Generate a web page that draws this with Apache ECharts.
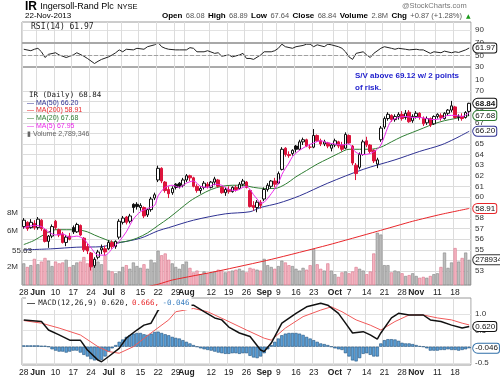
<!DOCTYPE html>
<html>
<head>
<meta charset="utf-8">
<script src="https://cdn.jsdelivr.net/npm/echarts@6/dist/echarts.min.js"></script>
<style>
  html, body { margin: 0; padding: 0; background: #fff; }
  #chart { width: 500px; height: 378px; }
</style>
</head>
<body>
<div id="chart"></div>
<script>
// trading days, 28-May-2013 .. 22-Nov-2013
const dates = [
  '05-28','05-29','05-30','05-31',
  '06-03','06-04','06-05','06-06','06-07','06-10','06-11','06-12','06-13','06-14',
  '06-17','06-18','06-19','06-20','06-21','06-24','06-25','06-26','06-27','06-28',
  '07-01','07-02','07-03','07-05','07-08','07-09','07-10','07-11','07-12','07-15',
  '07-16','07-17','07-18','07-19','07-22','07-23','07-24','07-25','07-26','07-29',
  '07-30','07-31',
  '08-01','08-02','08-05','08-06','08-07','08-08','08-09','08-12','08-13','08-14',
  '08-15','08-16','08-19','08-20','08-21','08-22','08-23','08-26','08-27','08-28',
  '08-29','08-30',
  '09-03','09-04','09-05','09-06','09-09','09-10','09-11','09-12','09-13','09-16',
  '09-17','09-18','09-19','09-20','09-23','09-24','09-25','09-26','09-27','09-30',
  '10-01','10-02','10-03','10-04','10-07','10-08','10-09','10-10','10-11','10-14',
  '10-15','10-16','10-17','10-18','10-21','10-22','10-23','10-24','10-25','10-28',
  '10-29','10-30','10-31',
  '11-01','11-04','11-05','11-06','11-07','11-08','11-11','11-12','11-13','11-14',
  '11-15','11-18','11-19','11-20','11-21','11-22'
];

const tickDates = ['05-28','06-03','06-10','06-17','06-24','07-01','07-08','07-15','07-22','07-29',
  '08-01','08-12','08-19','08-26','09-03','09-09','09-16','09-23','10-01','10-07','10-14','10-21',
  '10-28','11-01','11-11','11-18'];
const tickTexts = ['28','Jun','10','17','24','Jul','8','15','22','29','Aug','12','19','26','Sep',
  '9','16','23','Oct','7','14','21','28','Nov','11','18'];
const monthNames = ['Jun','Jul','Aug','Sep','Oct','Nov'];

const opens = [57.2,57.6,57.1,57.5,57.1,57.8,56.9,55.8,56.3,57.7,56.9,56.5,55.7,56.3,57.1,56.7,57.3,56.1,55.3,54.7,
  53.5,54.3,55.0,55.1,55.1,55.7,55.3,56.2,57.6,58.1,57.7,59.3,59.3,59.0,59.0,58.3,58.8,59.9,61.6,62.7,
  61.4,60.7,60.4,61.2,61.3,61.1,61.6,62.0,61.8,61.0,60.6,60.9,61.2,60.9,61.4,61.6,60.9,60.4,60.7,60.5,
  60.9,60.8,61.2,61.4,60.6,59.2,59.0,59.5,59.8,60.7,61.0,61.5,61.3,62.6,64.6,64.0,64.1,64.8,64.5,65.2,
  65.4,64.7,64.7,65.8,65.3,65.0,65.1,64.6,64.9,65.2,64.9,64.6,65.8,64.8,63.0,62.8,64.0,65.3,64.9,64.4,
  63.1,65.4,66.6,67.4,67.7,67.3,67.6,67.8,67.5,68.0,67.2,67.6,67.9,67.4,67.0,67.4,66.9,67.6,67.7,67.4,
  67.9,68.2,68.5,67.5,67.6,67.5,68.08];
const highs = [58.0,57.7,57.9,57.8,58.1,57.9,57.0,56.4,57.4,57.83,57.0,56.7,56.4,56.6,57.3,57.56,57.4,56.2,55.6,54.8,
  54.3,55.0,55.5,55.4,55.9,55.9,55.9,57.9,58.2,58.2,58.4,59.4,59.5,59.4,59.1,58.9,60.0,60.4,62.95,62.8,
  61.5,61.0,61.0,61.3,61.4,61.8,62.16,62.1,61.9,61.2,61.0,61.5,61.4,61.5,61.9,61.7,61.0,60.9,61.0,61.0,
  61.1,61.4,61.7,61.5,60.7,59.6,59.7,59.7,60.9,61.3,61.6,61.8,62.4,64.7,64.7,64.3,64.5,64.9,65.4,65.6,
  65.5,65.0,66.41,65.9,65.5,65.4,65.2,65.0,65.5,65.3,65.2,66.1,65.9,64.9,63.2,64.2,65.4,65.68,65.0,64.5,
  63.7,66.7,67.6,68.0,67.8,67.8,68.0,68.1,68.2,68.2,67.8,68.1,68.0,67.6,67.6,67.5,67.7,67.9,67.9,68.0,
  68.3,69.07,68.6,67.8,67.9,68.1,68.89];
const lows = [57.0,56.8,57.0,56.9,56.9,56.8,55.7,55.19,56.1,56.9,56.2,55.6,55.35,55.9,56.5,56.6,56.3,54.8,54.6,53.05,
  53.3,54.1,54.6,54.5,55.0,55.1,55.1,56.0,57.4,57.4,57.5,58.5,58.8,58.7,58.0,58.1,58.6,59.7,61.4,61.3,
  60.4,59.89,60.2,60.7,60.8,60.9,61.4,61.5,60.9,60.4,60.3,60.7,60.8,60.8,61.1,60.9,60.3,60.1,60.3,60.4,
  60.5,60.7,61.0,60.8,59.0,58.7,58.55,58.9,59.6,60.5,60.8,60.9,61.2,62.5,63.8,63.7,63.9,64.2,64.4,64.9,
  64.7,64.5,64.6,65.2,64.8,64.8,64.6,64.3,64.7,64.6,64.3,64.5,65.0,63.0,61.59,62.6,63.9,64.7,64.1,63.2,
  62.72,65.2,66.4,67.2,67.1,67.1,67.3,67.2,67.3,67.0,67.0,67.4,67.3,66.7,66.8,66.6,66.8,67.4,67.2,67.3,
  67.7,68.0,67.4,67.2,67.2,67.4,67.64];
const closes = [57.8,57.0,57.6,57.1,57.9,57.0,55.8,56.3,57.2,57.1,56.4,55.7,56.2,56.0,56.7,57.4,56.4,55.0,54.9,53.4,
  54.1,54.8,55.2,54.8,55.7,55.3,55.8,57.7,58.0,57.6,58.2,59.0,59.1,59.2,58.2,58.8,59.8,60.2,62.7,61.5,
  60.6,60.3,60.8,60.9,61.0,61.6,62.0,61.8,61.0,60.6,60.8,61.3,61.0,61.4,61.7,61.0,60.4,60.7,60.5,60.9,
  60.7,61.2,61.5,60.9,59.1,59.0,59.5,59.2,60.7,61.1,61.5,61.2,62.2,64.5,64.0,63.9,64.4,64.5,65.2,65.4,
  64.8,64.7,65.8,65.3,65.0,65.2,64.8,64.9,65.3,64.8,64.5,65.9,65.1,63.2,62.2,64.0,65.2,64.9,64.3,63.4,
  63.5,66.5,67.4,67.8,67.3,67.6,67.8,67.4,67.9,67.1,67.6,67.9,67.5,66.9,67.4,66.8,67.6,67.8,67.5,67.9,
  68.2,68.6,67.5,67.6,67.4,67.97,68.84];
// volume, millions of shares
const volumes = [2.4,2.0,2.2,2.9,2.3,2.6,3.0,2.7,2.1,2.6,2.4,2.5,2.8,2.0,2.2,2.5,2.6,3.1,2.4,3.3,
  2.9,2.6,2.3,3.3,1.6,1.5,1.3,1.5,2.0,2.2,1.8,2.5,2.1,1.9,2.3,1.8,2.8,2.5,3.8,3.3,
  3.5,2.8,2.4,2.0,1.8,2.3,2.6,1.9,1.4,1.6,1.2,1.5,1.3,1.4,1.5,1.7,1.6,1.4,1.5,1.6,
  1.7,1.8,1.6,1.4,1.9,1.8,1.7,1.6,2.9,2.2,2.0,1.8,2.1,2.7,2.5,2.2,2.1,1.8,1.6,1.9,
  1.7,2.2,4.0,2.3,1.8,1.6,2.4,1.6,1.2,0.9,1.4,1.5,1.3,1.5,2.0,1.8,1.6,1.2,1.5,3.5,
  5.8,5.6,2.2,2.2,1.4,1.6,1.5,1.3,1.0,1.1,1.3,1.0,0.8,0.9,0.8,1.0,1.2,1.3,2.0,3.6,
  1.9,2.5,4.1,2.6,3.0,3.6,2.79];

// [day index, value]
const ma5 = [[0,57.1],[3,57.3],[5,57.2],[7,56.7],[9,56.4],[11,56.5],[13,56.2],[15,56.3],[17,56.0],[19,55.2],
  [21,54.5],[23,54.5],[25,55.1],[27,55.8],[29,56.7],[31,57.9],[33,58.6],[35,58.9],[37,59.2],[38,60.1],
  [40,60.9],[42,61.1],[44,60.9],[46,61.3],[48,61.5],[50,61.0],[52,60.9],[54,61.2],[56,61.1],[58,60.7],
  [60,60.6],[62,60.9],[63,61.0],[64,60.7],[65,60.2],[66,59.8],[67,59.4],[68,59.5],[70,60.3],[72,61.3],
  [73,62.1],[74,62.7],[75,63.2],[76,63.8],[78,64.4],[80,64.8],[82,65.1],[84,65.3],[86,65.1],[88,65.0],
  [90,64.9],[92,65.0],[93,64.6],[94,64.2],[96,64.0],[98,64.1],[100,64.5],[101,64.9],[102,65.7],[103,66.6],
  [104,67.2],[106,67.5],[108,67.6],[110,67.5],[112,67.5],[114,67.4],[116,67.3],[118,67.4],[120,67.7],
  [122,67.7],[124,67.6],[126,67.95]];
const ma20 = [[0,55.5],[3,55.9],[6,56.5],[9,56.9],[12,56.9],[15,56.9],[18,56.7],[20,56.4],[23,56.0],[26,55.7],
  [29,55.8],[32,56.1],[35,56.6],[38,57.3],[41,58.0],[44,58.8],[47,59.6],[50,60.2],[53,60.7],[56,61.0],
  [59,61.1],[62,61.1],[65,60.9],[68,60.8],[71,60.8],[74,61.2],[77,61.9],[80,62.5],[83,63.1],[86,63.6],
  [89,64.1],[92,64.5],[95,64.5],[98,64.5],[101,64.7],[104,65.2],[107,65.7],[110,66.1],[113,66.5],
  [116,66.9],[119,67.2],[122,67.4],[126,67.68]];
const ma50 = [[0,55.0],[8,55.1],[15,55.25],[22,55.3],[26,55.6],[33,56.1],[38,56.8],[41,57.1],[48,57.8],
  [57,58.4],[64,58.6],[67,59.0],[72,59.4],[78,60.1],[86,61.3],[96,62.6],[105,63.5],[112,64.3],
  [118,64.9],[122,65.5],[126,66.2]];
const ma200 = [[30,51.2],[38,51.75],[42,52.15],[55,53.0],[70,54.1],[86,55.45],[100,56.75],[110,57.7],
  [118,58.35],[126,58.91]];
const rsi = [[0,60],[2,57.7],[3,60],[4,61.5],[5,56],[6,47],[7,52],[9,54.5],[10,51],[12,47],[13,49],[14,51],
  [15,54.5],[17,49],[18,45.5],[20,37.5],[21,41],[22,44],[24,48],[25,51],[26,54.5],[27,59],[28,56],[29,60],
  [31,59],[32,61.5],[34,60],[35,64],[37,67],[38,70.5],[39,64],[40,61.5],[41,60],[43,59],[44,59],[46,59],
  [47,62.5],[48,61.5],[49,56],[51,56],[52,57.7],[54,53.5],[55,54.5],[56,49],[58,51],[59,48],[61,51],
  [62,53.5],[63,45.5],[64,45.5],[65,44],[67,51],[68,56],[70,56],[71,57.7],[72,61.5],[73,68],[74,64],
  [76,61.5],[77,64],[79,66],[80,68],[81,68],[82,64],[83,67],[85,64],[86,68],[87,67],[89,64],[90,61.5],
  [91,56],[92,48],[93,44],[94,53.5],[96,56],[97,51],[98,47],[99,53.5],[101,61.5],[102,64],[104,61.5],
  [105,60],[106,61.5],[108,60],[109,59],[111,60],[112,59],[113,59],[115,53.5],[116,56],[118,54.5],
  [119,57],[121,54.5],[122,56],[123,55],[125,59],[126,61.97]];
const macd = [[0,0.82],[5,0.77],[7,0.51],[10,0.36],[13,0.2],[16,0.2],[18,-0.1],[21,-0.41],[22,-0.46],
  [24,-0.3],[27,-0.05],[29,0.26],[32,0.51],[34,0.66],[36,0.72],[38,1.11],[39,1.22],[41,1.33],[43,1.38],
  [45,1.32],[46,1.27],[48,1.27],[51,1.07],[54,0.88],[56,0.82],[58,0.6],[61,0.42],[64,0.31],[67,-0.1],
  [68,-0.15],[70,0.11],[73,0.72],[77,1.02],[80,1.22],[84,1.33],[86,1.27],[89,1.02],[91,0.72],[93,0.42],
  [96,0.46],[98,0.36],[100,0.23],[101,0.42],[104,0.88],[106,1.02],[109,0.97],[113,0.97],[115,0.82],
  [118,0.77],[121,0.66],[124,0.57],[126,0.62]];
const signal = [[0,0.8],[5,0.72],[10,0.57],[16,0.36],[21,0.0],[24,-0.15],[27,-0.2],[31,0.0],[36,0.42],
  [41,0.82],[43,1.07],[48,1.17],[52,1.07],[57,0.82],[63,0.51],[68,0.26],[70,0.2],[74,0.57],[79,0.92],
  [84,1.12],[87,1.22],[90,1.07],[94,0.82],[98,0.66],[101,0.51],[105,0.77],[109,0.97],[113,0.97],
  [117,0.88],[121,0.82],[124,0.72],[126,0.666]];
const hist = [0.04,0.04,0.04,0.04,0.04,0.03,0.03,0.0,-0.08,-0.12,-0.15,-0.15,-0.18,-0.15,-0.12,-0.12,-0.18,-0.25,-0.3,-0.38,
  -0.42,-0.41,-0.4,-0.3,-0.15,-0.05,0.05,0.15,0.22,0.3,0.35,0.4,0.42,0.42,0.38,0.36,0.4,0.45,0.46,0.42,
  0.38,0.35,0.3,0.27,0.25,0.2,0.15,0.1,0.05,0.0,-0.05,-0.08,-0.1,-0.12,-0.15,-0.18,-0.2,-0.22,-0.22,-0.2,
  -0.2,-0.22,-0.2,-0.2,-0.28,-0.33,-0.35,-0.3,-0.2,-0.08,0.05,0.15,0.25,0.35,0.4,0.42,0.42,0.42,0.4,0.36,
  0.3,0.25,0.2,0.15,0.1,0.08,0.05,0.0,-0.05,-0.08,-0.1,-0.2,-0.3,-0.42,-0.45,-0.35,-0.22,-0.2,-0.25,-0.3,
  -0.3,0.1,0.2,0.23,0.23,0.22,0.18,0.12,0.1,0.1,0.08,0.05,0.02,0.0,-0.05,-0.12,-0.12,-0.12,-0.1,-0.1,
  -0.08,-0.1,-0.1,-0.12,-0.1,-0.08,-0.046];

const rsiTicks = [50, 70, 90];
const priceTicks = [53,54,55,56,57,58,59,60,61,62,63,64,65,66,67,68,69,70];
const volTicks = [2, 6, 8];
const macdTicks = [-0.5, 0, 0.5, 1.0];

const last = dates.length - 1;
const tickOf = {};
tickDates.forEach((d, i) => { tickOf[d] = tickTexts[i]; });
const isTick = (i, v) => tickOf[v] !== undefined;
const fmtDate = v => {
  const t = tickOf[v];
  if (t === undefined) return '';
  return monthNames.includes(t) ? '{m|' + t + '}' : t;
};

const candleData = closes.map((c, i) => {
  const o = opens[i];
  const prev = i > 0 ? closes[i - 1] : o;
  const col = c >= prev ? '#111' : '#dc143c';
  const fill = c > o ? '#fff' : col;
  return { value: [o, c, lows[i], highs[i]],
    itemStyle: { color: fill, color0: fill, borderColor: col, borderColor0: col } };
});
const volData = volumes.map((v, i) => {
  const up = i === 0 || closes[i] >= closes[i - 1];
  return { value: v, itemStyle: up ? { color: '#bdbdbd', borderColor: '#858585' }
                                   : { color: '#f5b5c2', borderColor: '#d8738a' } };
});

function tag(idx, val, text, border, bold) {
  return {
    symbol: 'circle', symbolSize: 0, silent: true, animation: false,
    data: [{ coord: [idx, val] }],
    label: {
      show: true, position: 'right', distance: 4, formatter: text,
      backgroundColor: '#fff', borderColor: border, borderWidth: 1, borderRadius: [5, 2, 2, 5],
      padding: [1, 1, 0, 2], fontSize: 8, color: '#111', fontWeight: bold ? 'bold' : 'normal',
      fontFamily: 'Liberation Sans'
    }
  };
}

function catAxis(gi, labels) {
  return {
    type: 'category', gridIndex: gi, data: dates, boundaryGap: true,
    axisLine: { show: false }, axisTick: { show: false },
    axisLabel: { show: labels, interval: isTick, formatter: fmtDate, fontSize: 8.5, color: '#222',
      margin: 3, rich: { m: { fontWeight: 'bold', fontSize: 8.5, color: '#222' } } },
    splitLine: { show: true, interval: isTick, lineStyle: { color: '#dcdcdc', width: 1 } }
  };
}

function lineSeries(name, xi, yi, pts, color, width, smooth, extra) {
  return Object.assign({
    name, type: 'line', xAxisIndex: xi, yAxisIndex: yi, data: pts, symbol: 'none',
    smooth: smooth, lineStyle: { color, width }, itemStyle: { color }, z: 3, silent: true
  }, extra || {});
}

const txt = (x, y, text, font, fill, extra) => Object.assign({
  type: 'text', x, y, z: 100, silent: true,
  style: { text, font, fill, textVerticalAlign: 'middle', verticalAlign: 'middle' }
}, extra || {});

const chart = echarts.init(document.getElementById('chart'));
chart.setOption({
  animation: false,
  textStyle: { fontFamily: 'Liberation Sans, Arial, sans-serif' },
  grid: [
    { left: 22, top: 22, width: 449, height: 45, show: true, borderColor: '#9a9a9a', borderWidth: 1 },
    { left: 22, top: 67, width: 449, height: 218, show: true, borderColor: '#8a8a8a', borderWidth: 1 },
    { left: 22, top: 298, width: 449, height: 67, show: true, borderColor: '#9a9a9a', borderWidth: 1 }
  ],
  xAxis: [catAxis(0, false), catAxis(1, true), catAxis(2, true)],
  yAxis: [
    { type: 'value', gridIndex: 0, position: 'right', min: 32, max: 103,
      axisLabel: { customValues: rsiTicks, fontSize: 8, color: '#333', margin: 4 },
      axisTick: { show: false, customValues: rsiTicks }, axisLine: { show: false },
      splitLine: { show: true, lineStyle: { color: '#e2e2e2' } } },
    { type: 'value', gridIndex: 1, position: 'right', min: 51.68, max: 72.27,
      axisLabel: { customValues: priceTicks, fontSize: 8, color: '#333', margin: 4 },
      axisTick: { show: false, customValues: priceTicks }, axisLine: { show: false },
      splitLine: { show: true, lineStyle: { color: '#dcdcdc' } } },
    { type: 'value', gridIndex: 1, position: 'left', min: 0, max: 24.2, interval: 2,
      axisLabel: { formatter: v => volTicks.includes(v) ? v + 'M' : '', fontSize: 8, color: '#333', margin: 4 },
      axisTick: { show: false }, axisLine: { show: false }, splitLine: { show: false } },
    { type: 'value', gridIndex: 2, position: 'right', min: -0.56, max: 1.49,
      axisLabel: { customValues: macdTicks, fontSize: 8, color: '#333', margin: 4,
        formatter: v => v === 0 ? '' : (v === 1 ? '1.0' : String(v)) },
      axisTick: { show: false, customValues: macdTicks }, axisLine: { show: false },
      splitLine: { show: true, lineStyle: { color: '#e2e2e2' } } }
  ],
  series: [
    lineSeries('RSI', 0, 0, rsi, '#222', 1, false, {
      markLine: { silent: true, symbol: ['none', 'none'], label: { show: false },
        data: [
          { yAxis: 70, lineStyle: { color: '#a8a8a8', width: 2, type: 'solid' } },
          { yAxis: 50, lineStyle: { color: '#a0a0a0', width: 1, type: 'dashed' } }
        ] },
      markPoint: tag(last, 61.97, '61.97', '#111', false)
    }),
    { name: 'Volume', type: 'bar', xAxisIndex: 1, yAxisIndex: 2, data: volData, barWidth: '88%',
      itemStyle: { borderWidth: 0.6 }, z: 1, silent: true,
      markPoint: tag(last, 2.789346, '2789346', '#333', false) },
    lineSeries('MA200', 1, 1, ma200, '#e8262a', 1, 0.2, { markPoint: tag(last, 58.91, '58.91', '#e8262a', false) }),
    lineSeries('MA50', 1, 1, ma50, '#2e3192', 1, 0.3, { markPoint: tag(last, 66.2, '66.20', '#2e3192', false) }),
    lineSeries('MA20', 1, 1, ma20, '#2e7d32', 1, 0.3, { markPoint: tag(last, 67.68, '67.68', '#2e7d32', false) }),
    { name: 'IR', type: 'candlestick', xAxisIndex: 1, yAxisIndex: 1, data: candleData, barWidth: 3,
      itemStyle: { borderWidth: 1 }, z: 4, silent: true,
      markPoint: tag(last, 68.84, '68.84', '#111', true) },
    lineSeries('MA5', 1, 1, ma5, '#ea28ea', 1, 0.3, { z: 5 }),
    { name: 'Hist', type: 'bar', xAxisIndex: 2, yAxisIndex: 3, data: hist, barWidth: '92%',
      itemStyle: { color: '#5b9fd6', borderColor: '#21527d', borderWidth: 0.6 }, z: 1, silent: true,
      markPoint: tag(last, -0.046, '-0.046', '#2f6fa8', false) },
    lineSeries('Signal', 2, 3, signal, '#f05a5a', 1, false),
    lineSeries('MACD', 2, 3, macd, '#111', 1.5, false, { markPoint: tag(last, 0.62, '0.620', '#111', false) })
  ],
  graphic: [
    txt(25, 7, '', '9px "Liberation Sans"', '#000', { style: {
      text: '{a|IR} {b|Ingersoll-Rand Plc} {c|NYSE}', verticalAlign: 'middle', textVerticalAlign: 'middle',
      rich: { a: { fontSize: 12, fontWeight: 'bold', fill: '#000', fontFamily: 'Liberation Sans' },
              b: { fontSize: 9, fill: '#000', fontFamily: 'Liberation Sans' },
              c: { fontSize: 7.5, fill: '#000', fontFamily: 'Liberation Sans' } } } }),
    txt(25, 16, '22-Nov-2013', '8px "Liberation Sans"', '#000'),
    txt(402, 6, '@StockCharts.com', '7.5px "Liberation Sans"', '#777'),
    txt(162, 16, '', '8px "Liberation Sans"', '#000', { style: {
      text: '{l|Open} {v|68.08} {l|High} {v|68.89} {l|Low} {v|67.64} {l|Close} {v|68.84} {l|Volume} {v|2.8M} {l|Chg} {v|+0.87 (+1.28%)}',
      verticalAlign: 'middle', textVerticalAlign: 'middle',
      rich: { l: { fontSize: 8, fontWeight: 'bold', fill: '#000', fontFamily: 'Liberation Sans' },
              v: { fontSize: 7.5, fill: '#555', fontFamily: 'Liberation Sans' } } } }),
    txt(466, 16, '▲', '6px "DejaVu Sans"', '#1a9a1a'),
    txt(31, 27, 'RSI(14) 61.97', '8px "DejaVu Sans Mono"', '#222'),
    txt(475, 67, '30', '8px "Liberation Sans"', '#333'),
    txt(475, 80, '10', '8px "Liberation Sans"', '#333'),
    txt(29, 95, 'IR (Daily) 68.84', '7.5px "DejaVu Sans Mono"', '#222'),
    txt(27, 102.7, '— MA(50) 66.20', '7px "Liberation Sans"', '#2e3192'),
    txt(27, 110.5, '— MA(200) 58.91', '7px "Liberation Sans"', '#e8262a'),
    txt(27, 118.5, '— MA(20) 67.68', '7px "Liberation Sans"', '#2e7d32'),
    txt(27, 126.2, '— MA(5) 67.95', '7px "Liberation Sans"', '#ea28ea'),
    txt(27, 133.7, '▮ Volume 2,789,346', '7px "Liberation Sans"', '#666'),
    txt(355, 76, 'S/V above 69.12 w/ 2 points', 'bold 8px "Liberation Sans"', '#1d1dcc'),
    txt(355, 88, 'of risk.', 'bold 8px "Liberation Sans"', '#1d1dcc'),
    txt(12, 251, '55.63', '8px "Liberation Sans"', '#333'),
    txt(26, 303, '', '7.5px "DejaVu Sans Mono"', '#111', { style: {
      text: '{k|—} {t|MACD(12,26,9) 0.620,} {r|0.666,} {b|-0.046}',
      verticalAlign: 'middle', textVerticalAlign: 'middle', backgroundColor: '#fff', padding: [1, 2, 1, 1],
      rich: { k: { fontSize: 8, fontWeight: 'bold', fill: '#111' },
              t: { fontSize: 7.5, fontFamily: 'DejaVu Sans Mono', fill: '#222' },
              r: { fontSize: 7.5, fontFamily: 'DejaVu Sans Mono', fill: '#e8262a' },
              b: { fontSize: 7.5, fontFamily: 'DejaVu Sans Mono', fill: '#3a7fc0' } } } })
  ]
});
</script>
</body>
</html>
